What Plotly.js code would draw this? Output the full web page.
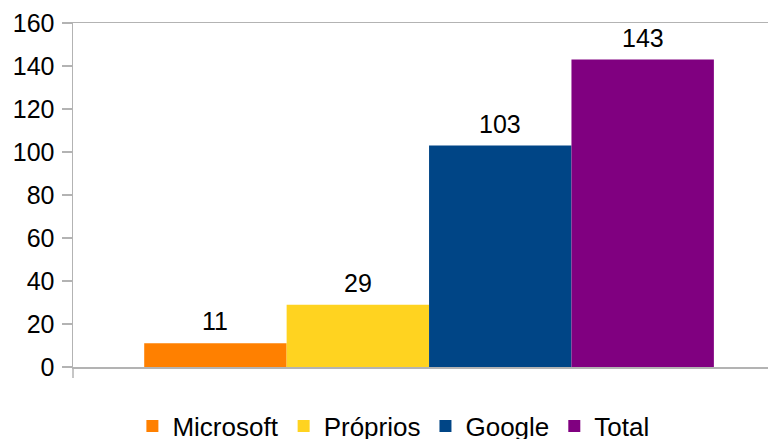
<!DOCTYPE html>
<html>
<head>
<meta charset="utf-8">
<script src="https://cdn.plot.ly/plotly-3.0.1.min.js"></script>
<style>html,body{margin:0;padding:0;background:#fff;}#chart{width:768px;height:439px;}</style>
</head>
<body>
<div id="chart"></div>
<script>
const category = ["Acessos"];
const seriesNames = ["Microsoft", "Próprios", "Google", "Total"];
const microsoft = [11];
const proprios = [29];
const google = [103];
const total = [143];
const seriesColors = ["#ff8000", "#ffd320", "#004586", "#800080"];
const yTicks = [0, 20, 40, 60, 80, 100, 120, 140, 160];

const FONT = "Liberation Sans, Arial, sans-serif";
const values = [microsoft, proprios, google, total];
const bargap = 0.2;
const nSeries = values.length;
const barW = (1 - bargap) / nSeries;

const traces = values.map((v, i) => ({
  type: "bar",
  name: seriesNames[i],
  x: category,
  y: v,
  marker: {color: seriesColors[i], line: {width: 0}},
  hoverinfo: "none"
}));

// value labels above each bar, positioned from the bar layout
const annotations = [];
values.forEach((v, i) => {
  v.forEach((val, j) => {
    annotations.push({
      xref: "x", yref: "y",
      x: j - (1 - bargap) / 2 + barW * (i + 0.5),
      y: val,
      text: String(val),
      showarrow: false,
      xanchor: "center", yanchor: "bottom",
      yshift: 6,
      font: {family: FONT, size: 25, color: "#000"}
    });
  });
});

const plotTop = 22.5, plotBottom = 367, H = 439;
const layout = {
  width: 768, height: 439,
  margin: {l: 73, r: 0, t: plotTop, b: H - plotBottom, autoexpand: false},
  paper_bgcolor: "#fff", plot_bgcolor: "#fff",
  font: {family: FONT, size: 25, color: "#000"},
  barmode: "group",
  bargap: bargap,
  bargroupgap: 0,
  showlegend: true,
  legend: {
    orientation: "h",
    x: 0.461, xanchor: "center",
    y: -0.172, yanchor: "middle",
    font: {family: FONT, size: 26, color: "#000"},
    itemwidth: 30,
    traceorder: "normal"
  },
  xaxis: {
    type: "category",
    range: [-0.5, 0.476],
    showticklabels: false,
    ticks: "",
    showgrid: false,
    zeroline: false,
    showline: true, mirror: true,
    linecolor: "#b3b3b3", linewidth: 1.5,
    fixedrange: true
  },
  yaxis: {
    range: [0, 160],
    tickvals: yTicks,
    ticktext: yTicks.map(String),
    ticks: "outside", ticklen: 10, tickcolor: "#b3b3b3", tickwidth: 1.5,
    showline: true, linecolor: "#b3b3b3", linewidth: 1.5,
    showgrid: false, zeroline: false,
    tickfont: {family: FONT, size: 25, color: "#000"},
    ticklabelstandoff: 2,
    fixedrange: true
  },
  annotations: annotations,
  shapes: [{
    type: "line", xref: "paper", yref: "paper",
    x0: 0, x1: 0, y0: 0, y1: -11 / (plotBottom - plotTop),
    line: {color: "#b3b3b3", width: 1.5}
  }]
};

Plotly.newPlot("chart", traces, layout, {displayModeBar: false, staticPlot: true});
</script>
</body>
</html>
